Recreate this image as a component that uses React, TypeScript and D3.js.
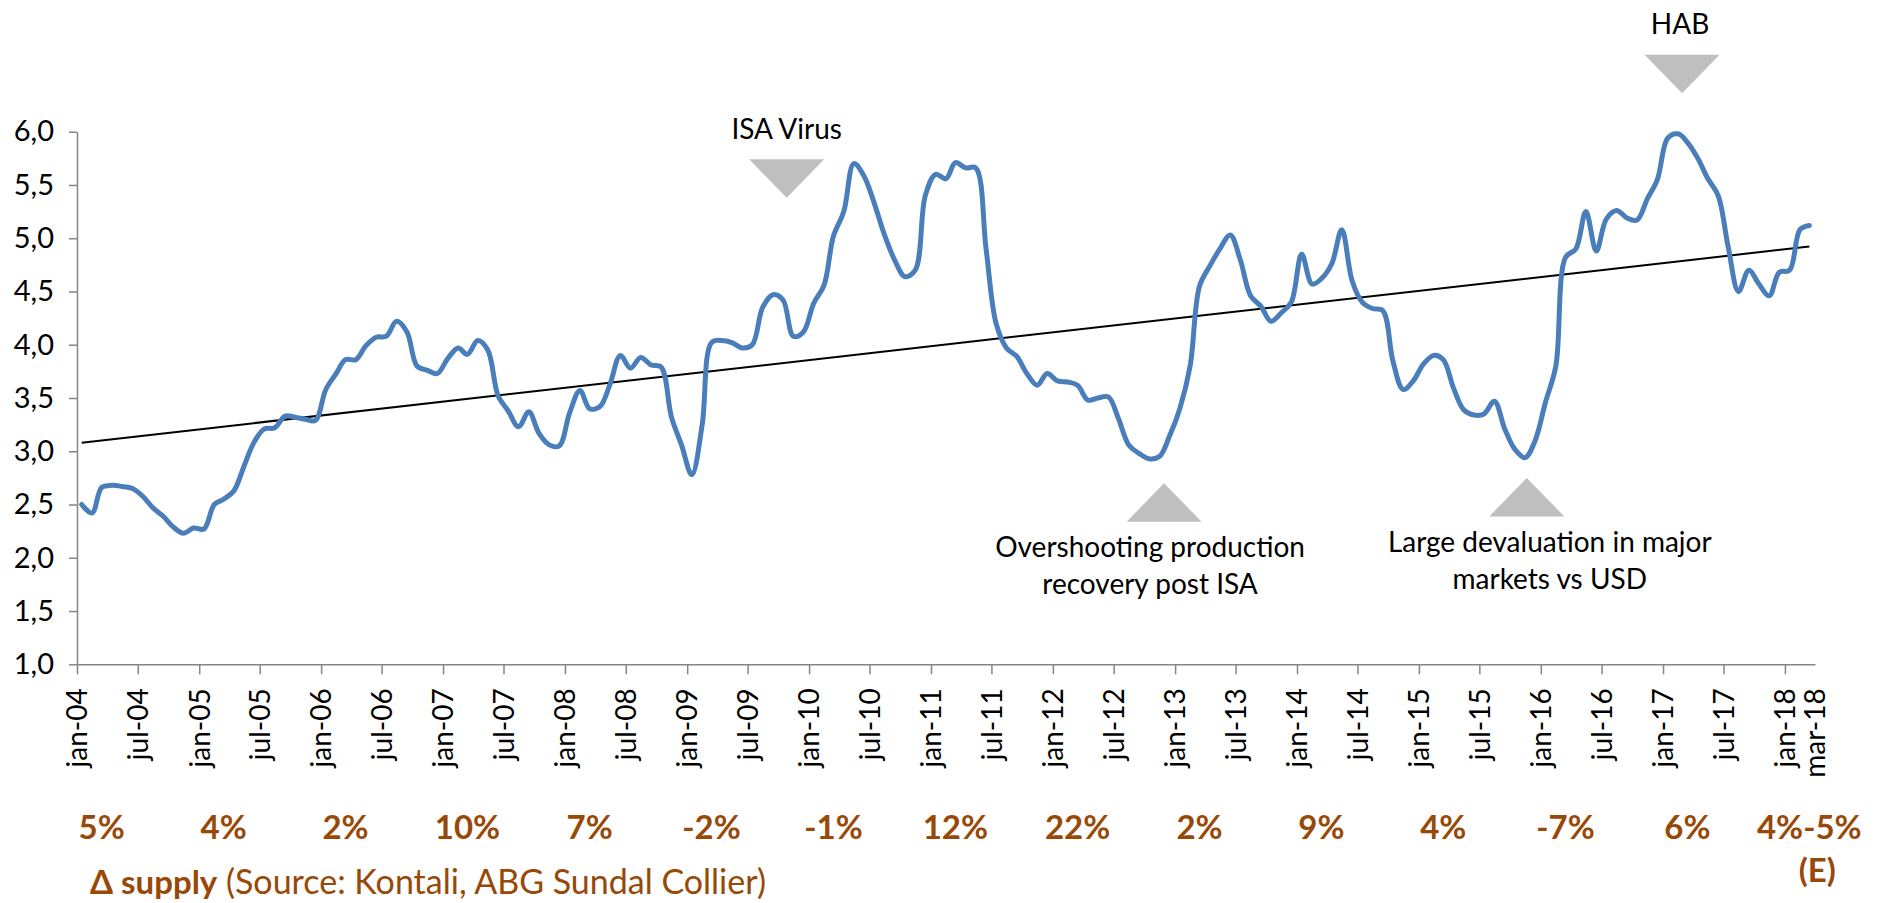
import React, { useEffect, useRef } from "react";
import * as d3 from "d3";

// monthly salmon price (EUR/kg), one value per month from jan-04 to mar-18
const prices = [
  2.5, 2.42, 2.66, 2.68, 2.67, 2.65, 2.58, 2.47, 2.39, 2.29, 2.23, 2.28,
  2.27, 2.5, 2.55, 2.63, 2.86, 3.09, 3.21, 3.22, 3.33, 3.32, 3.3, 3.29,
  3.58, 3.73, 3.86, 3.86, 3.99, 4.07, 4.08, 4.22, 4.12, 3.8, 3.76, 3.73,
  3.87, 3.97, 3.91, 4.04, 3.95, 3.52, 3.38, 3.23, 3.37, 3.17, 3.06, 3.05,
  3.36, 3.57, 3.4, 3.42, 3.63, 3.9, 3.78, 3.88, 3.81, 3.79, 3.32, 3.06,
  2.78, 3.25, 4.02, 4.04, 4.02, 3.97, 4.0, 4.35, 4.47, 4.42, 4.08, 4.12,
  4.39, 4.56, 5.02, 5.25, 5.7, 5.58, 5.33, 5.03, 4.79, 4.64, 4.7, 5.4,
  5.6, 5.56, 5.71, 5.66, 5.66, 4.9, 4.2, 3.97, 3.89, 3.73, 3.62, 3.73,
  3.66, 3.65, 3.62, 3.48, 3.5, 3.51, 3.31, 3.06, 2.98, 2.93, 2.95, 3.14,
  3.4, 3.8, 4.55, 4.74, 4.9, 5.03, 4.8, 4.46, 4.36, 4.22, 4.3, 4.4,
  4.85, 4.57, 4.62, 4.76, 5.08, 4.6, 4.4, 4.34, 4.32, 3.85, 3.58, 3.66,
  3.82, 3.9, 3.86, 3.59, 3.39, 3.34, 3.35, 3.47, 3.21, 3.02, 2.94, 3.1,
  3.46, 3.8, 4.82, 4.9, 5.25, 4.88, 5.18, 5.26, 5.19, 5.17, 5.37, 5.55,
  5.94, 5.98, 5.9, 5.75, 5.56, 5.4, 4.92, 4.5, 4.7, 4.57, 4.46, 4.68,
  4.7, 5.08, 5.12,
];

const yTicks = [1, 1.5, 2, 2.5, 3, 3.5, 4, 4.5, 5, 5.5, 6];

const supplyYears = [
  2004, 2005, 2006, 2007, 2008, 2009, 2010, 2011, 2012, 2013, 2014, 2015,
  2016, 2017, 2018,
];
const supplyGrowth = [
  "5%", "4%", "2%", "10%", "7%", "-2%", "-1%", "12%", "22%", "2%", "9%",
  "4%", "-7%", "6%", "4%-5%",
];

const events = [
  { lines: ["ISA Virus"], date: new Date(2009, 9, 26), value: 5.38, dir: "down", dx: 0 },
  { lines: ["HAB"], date: new Date(2017, 1, 27), value: 6.36, dir: "down", dx: -2 },
  {
    lines: ["Overshooting production", "recovery post ISA"],
    date: new Date(2012, 10, 29),
    value: 2.7,
    dir: "up",
    dx: -14,
  },
  {
    lines: ["Large devaluation in major", "markets vs USD"],
    date: new Date(2015, 10, 20),
    value: 2.75,
    dir: "up",
    dx: 23,
  },
];

const width = 1880;
const height = 903;
const font = "Lato, 'Open Sans', sans-serif";
const brown = "#984807";
const axisGrey = "#868686";

const App = () => {
  const ref = useRef<SVGSVGElement>(null);

  useEffect(() => {
    const svg = d3.select(ref.current);
    svg.selectAll("*").remove();

    const data = prices.map((v, i) => ({ date: new Date(2004, i, 15), value: v }));

    const x = d3
      .scaleTime()
      .domain([new Date(2004, 0, 1), new Date(2018, 3, 1)])
      .range([77, 1815]);
    const y = d3.scaleLinear().domain([1, 6]).range([664.3, 131.7]);

    // y axis
    const yAxis = svg
      .append("g")
      .attr("transform", `translate(${x.range()[0]},0)`)
      .call(
        d3
          .axisLeft(y)
          .tickValues(yTicks)
          .tickFormat((d) => d3.format(".1f")(d as number).replace(".", ","))
          .tickSize(8)
          .tickSizeOuter(0)
          .tickPadding(15)
      );
    yAxis.selectAll("path, line").attr("stroke", axisGrey).attr("stroke-width", 1.5);
    yAxis
      .selectAll("text")
      .attr("font-family", font)
      .attr("font-size", 29)
      .attr("fill", "#000");

    // x axis
    const tickDates = d3.timeMonth.every(6)!.range(new Date(2004, 0, 1), new Date(2018, 0, 2));
    const fmt = d3.timeFormat("%b-%y");
    const xAxis = svg
      .append("g")
      .attr("transform", `translate(0,${y(1)})`)
      .call(
        d3
          .axisBottom(x)
          .tickValues(tickDates)
          .tickFormat((d) => fmt(d as Date).toLowerCase())
          .tickSize(10)
          .tickSizeOuter(0)
      );
    xAxis.selectAll("path, line").attr("stroke", axisGrey).attr("stroke-width", 1.5);
    xAxis
      .selectAll("text")
      .attr("font-family", font)
      .attr("font-size", 28)
      .attr("fill", "#000")
      .attr("text-anchor", "end")
      .attr("transform", "rotate(-90)")
      .attr("x", -24)
      .attr("y", 0)
      .attr("dy", "0.35em");

    // last month label
    svg
      .append("text")
      .attr("transform", `translate(${x.range()[1]},${y(1) + 24}) rotate(-90)`)
      .attr("text-anchor", "end")
      .attr("dy", "0.35em")
      .attr("font-family", font)
      .attr("font-size", 28)
      .text(fmt(data[data.length - 1].date).toLowerCase());

    // trend line (least squares on the monthly series)
    const n = prices.length;
    const meanX = d3.mean(prices, (_, i) => i)!;
    const meanY = d3.mean(prices)!;
    const slope =
      d3.sum(prices, (v, i) => (i - meanX) * (v - meanY)) /
      d3.sum(prices, (_, i) => (i - meanX) * (i - meanX));
    const intercept = meanY - slope * meanX;
    svg
      .append("line")
      .attr("x1", x(data[0].date))
      .attr("y1", y(intercept))
      .attr("x2", x(data[n - 1].date))
      .attr("y2", y(intercept + slope * (n - 1)))
      .attr("stroke", "#000")
      .attr("stroke-width", 2);

    // price line
    const line = d3
      .line<{ date: Date; value: number }>()
      .x((d) => x(d.date))
      .y((d) => y(d.value))
      .curve(d3.curveCatmullRom.alpha(0.5));

    svg
      .append("path")
      .datum(data)
      .attr("fill", "none")
      .attr("stroke", "#4A7EBB")
      .attr("stroke-width", 5)
      .attr("stroke-linejoin", "round")
      .attr("stroke-linecap", "round")
      .attr("d", line);

    // event markers
    events.forEach((e) => {
      const cx = x(e.date);
      const cy = y(e.value);
      const h = 38.5;
      const w = 37.5;
      const base = e.dir === "down" ? cy - h : cy + h;
      svg
        .append("path")
        .attr("d", `M${cx - w},${base}L${cx + w},${base}L${cx},${cy}Z`)
        .attr("fill", "#BFBFBF");

      const t = svg
        .append("text")
        .attr("font-family", font)
        .attr("font-size", 28)
        .attr("fill", "#000")
        .attr("text-anchor", "middle");
      const startY = e.dir === "down" ? cy - 59 : cy + 74;
      e.lines.forEach((l, i) => {
        t.append("tspan")
          .attr("x", cx + e.dx)
          .attr("y", startY + i * 37)
          .text(l);
      });
    });

    // supply growth row
    supplyYears.forEach((yr, i) => {
      svg
        .append("text")
        .attr("x", x(new Date(yr, 2, 15)))
        .attr("y", 839)
        .attr("text-anchor", "middle")
        .attr("font-family", font)
        .attr("font-weight", "bold")
        .attr("font-size", 33)
        .attr("fill", brown)
        .text(supplyGrowth[i]);
    });
    svg
      .append("text")
      .attr("x", x(new Date(supplyYears[supplyYears.length - 1], 2, 15)) + 8)
      .attr("y", 882)
      .attr("text-anchor", "middle")
      .attr("font-family", font)
      .attr("font-weight", "bold")
      .attr("font-size", 33)
      .attr("fill", brown)
      .text("(E)");

    const src = svg
      .append("text")
      .attr("x", 90)
      .attr("y", 894)
      .attr("font-family", font)
      .attr("font-size", 34)
      .attr("fill", brown);
    src.append("tspan").attr("font-weight", "bold").attr("font-size", 33).text("Δ supply");
    src.append("tspan").text(" (Source: Kontali, ABG Sundal Collier)");
  }, []);

  return (
    <svg
      ref={ref}
      width={width}
      height={height}
      style={{ position: "absolute", left: 0, top: 0, display: "block", background: "#fff" }}
    />
  );
};

export default App;
